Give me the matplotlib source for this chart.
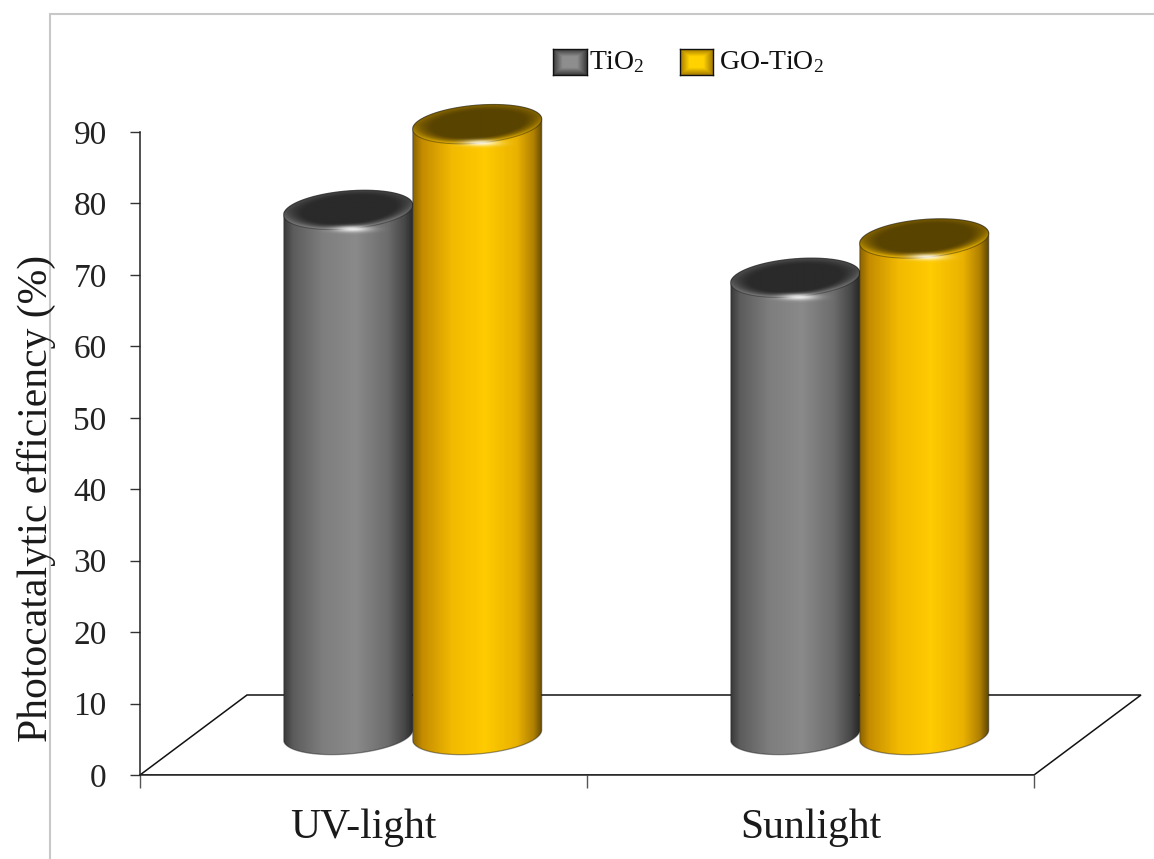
"""Photocatalytic efficiency of TiO2 and GO-TiO2 under UV light and sunlight.

Pseudo-3D cylinder bar chart drawn with plain matplotlib patches and clipped
gradient images.
"""

import matplotlib

matplotlib.use("Agg")
import matplotlib.pyplot as plt  # noqa: E402
import numpy as np  # noqa: E402
from matplotlib.colors import LinearSegmentedColormap, to_rgb  # noqa: E402
from matplotlib.patches import Polygon, Rectangle  # noqa: E402

plt.rcParams["font.family"] = ["Liberation Serif", "DejaVu Serif"]
plt.rcParams["mathtext.fontset"] = "custom"
plt.rcParams["mathtext.rm"] = "Liberation Serif"
plt.rcParams["mathtext.it"] = "Liberation Serif:italic"

categories = ["UV-light", "Sunlight"]
series_names = [r"TiO$_{\mathrm{2}}$", r"GO-TiO$_{\mathrm{2}}$"]
tio2 = [73.5, 64.0]
go_tio2 = [85.5, 69.5]
y_ticks = [0, 10, 20, 30, 40, 50, 60, 70, 80, 90]

W, H, DPI = 1154, 859, 100
PX_X = 447.0   # pixels per category unit
PX_Y = 7.144   # pixels per percent

# floor depth offset (px -> data units)
DDX = 107 / PX_X
DDY = 80 / PX_Y
# cylinder geometry
CW = 129 / PX_X
CA = CW / 2
CB = 19 / PX_Y
SHEAR = (10 / PX_Y) / CW
BASE = DDY / 2

BODY_STOPS = {
    "gray": [(0.0, "#3a3a3a"), (0.07, "#5c5c5c"), (0.3, "#7e7e7e"), (0.55, "#8a8a8a"),
             (0.8, "#6c6c6c"), (0.93, "#474747"), (1.0, "#262626")],
    "gold": [(0.0, "#8c6400"), (0.07, "#c48c00"), (0.3, "#f2ba00"), (0.55, "#ffcb00"),
             (0.8, "#eab200"), (0.93, "#b08000"), (1.0, "#5e4600")],
}
TOP_COLORS = {"gray": ("#2a2a2a", "#8a8a8a"), "gold": ("#594300", "#e6b000")}


def ellipse_pts(xc, yc, t0, t1, n=80):
    t = np.linspace(t0, t1, n)
    x = xc + CA * np.cos(t)
    y = yc + CB * np.sin(t) + SHEAR * (x - xc)
    return np.column_stack([x, y])


def draw_cylinder(ax, xc, value, style, z):
    yb = BASE
    yt = BASE + value
    x0, x1 = xc - CA, xc + CA
    lo = yb - CB - SHEAR * CA
    hi = yt + CB + SHEAR * CA

    # body: lower half of base ellipse, then upper half of top ellipse
    body = np.vstack([ellipse_pts(xc, yb, np.pi, 2 * np.pi), ellipse_pts(xc, yt, 0, np.pi)])
    clip = Polygon(body, closed=True, facecolor="none", edgecolor="none", zorder=z)
    ax.add_patch(clip)
    cmap = LinearSegmentedColormap.from_list(style, BODY_STOPS[style])
    row = cmap(np.linspace(0, 1, 256))[None, :, :]
    im = ax.imshow(row, extent=[x0, x1, lo, hi], aspect="auto", interpolation="bilinear",
                   origin="lower", zorder=z)
    im.set_clip_path(clip)
    ax.add_patch(Polygon(body, closed=True, facecolor="none", edgecolor="#1a1a1a",
                         lw=0.9, alpha=0.45, zorder=z + 0.1))

    # top face with a bevelled rim
    top = ellipse_pts(xc, yt, 0, 2 * np.pi, 160)
    tclip = Polygon(top, closed=True, facecolor="none", edgecolor="none", zorder=z + 0.2)
    ax.add_patch(tclip)
    ny, nx = 120, 160
    ty0, ty1 = yt - CB - SHEAR * CA, yt + CB + SHEAR * CA
    gx, gy = np.meshgrid(np.linspace(x0, x1, nx), np.linspace(ty0, ty1, ny))
    u = (gx - xc) / CA
    v = (gy - yt - SHEAR * (gx - xc)) / CB
    r = np.sqrt(u ** 2 + v ** 2)
    f = np.clip((r - 0.7) / 0.3, 0, 1) ** 1.5 * (0.35 + 0.65 * np.clip(-v + 0.2, 0, 1))
    c_in, c_rim = np.array(to_rgb(TOP_COLORS[style][0])), np.array(to_rgb(TOP_COLORS[style][1]))
    img = c_in * (1 - f[..., None]) + c_rim * f[..., None]
    tim = ax.imshow(img, extent=[x0, x1, ty0, ty1], aspect="auto", origin="lower",
                    interpolation="bilinear", zorder=z + 0.2)
    tim.set_clip_path(tclip)
    ax.add_patch(Polygon(top, closed=True, facecolor="none", edgecolor="#111111",
                         lw=0.8, alpha=0.4, zorder=z + 0.3))

    # specular spot just below the front rim
    hx, hy = np.meshgrid(np.linspace(x0, x1, 120), np.linspace(yt - 2 * CB, yt, 60))
    hxc, hyc = xc + 0.05 * CA, yt - 1.0 * CB
    a = 0.85 * np.exp(-(((hx - hxc) / (0.28 * CA)) ** 2) - (((hy - hyc) / (0.16 * CB)) ** 2))
    spot = np.ones((60, 120, 4))
    spot[..., 3] = a
    ax.imshow(spot, extent=[x0, x1, yt - 2 * CB, yt], aspect="auto", origin="lower",
              interpolation="bilinear", zorder=z + 0.4)


def legend_icon(fig, left_px, top_px, w_px, h_px, edge, inner):
    iax = fig.add_axes([left_px / W, 1 - (top_px + h_px) / H, w_px / W, h_px / H])
    ny, nx = 40, 50
    gx, gy = np.meshgrid(np.linspace(0, 1, nx), np.linspace(0, 1, ny))
    d = np.minimum(np.minimum(gx, 1 - gx), np.minimum(gy, 1 - gy))
    t = np.clip(d / 0.28, 0, 1)
    e, c = np.array(to_rgb(edge)), np.array(to_rgb(inner))
    img = e * (1 - t[..., None]) + c * t[..., None]
    iax.imshow(img, aspect="auto", interpolation="bilinear")
    iax.set_xticks([])
    iax.set_yticks([])
    for s in iax.spines.values():
        s.set_color("#111111")
        s.set_linewidth(1.0)


fig = plt.figure(figsize=(W / DPI, H / DPI), dpi=DPI)
fig.patch.set_facecolor("white")

# chart area frame
fig.add_artist(Rectangle((50 / W, -0.01), 1.0, 1 - 14 / H + 0.01, transform=fig.transFigure,
                         facecolor="none", edgecolor="#c8c8c8", lw=1.5))

ax_l, ax_r, ax_b, ax_t = 140, 1150, 775, 80
ax = fig.add_axes([ax_l / W, (H - ax_b) / H, (ax_r - ax_l) / W, (ax_b - ax_t) / H])
ax.set_facecolor("none")

# floor
floor = [(0, 0), (2, 0), (2 + DDX, DDY), (DDX, DDY)]
ax.add_patch(Polygon(floor, closed=True, facecolor="white", edgecolor="#111111",
                     lw=1.1, zorder=1))

for i in range(len(categories)):
    gc = i + 0.5 + 0.11
    draw_cylinder(ax, gc - CA, tio2[i], "gray", 3 + i * 2)
    draw_cylinder(ax, gc + CA, go_tio2[i], "gold", 4 + i * 2)

ax.set_xlim(0, (ax_r - ax_l) / PX_X)
ax.set_ylim(0, (ax_b - ax_t) / PX_Y)

for side in ("top", "right"):
    ax.spines[side].set_visible(False)
ax.spines["left"].set_bounds(0, 90)
ax.spines["bottom"].set_bounds(0, 2)
for side in ("left", "bottom"):
    ax.spines[side].set_color("#222222")
    ax.spines[side].set_linewidth(1.1)

ax.set_yticks(y_ticks)
ax.set_yticklabels([str(t) for t in y_ticks])
ax.tick_params(axis="y", length=7, width=1.0, color="#333333", labelsize=24, pad=17,
               labelcolor="#222222")
ax.set_xticks([0, 1, 2])
ax.set_xticklabels([])
ax.tick_params(axis="x", length=9, width=1.0, color="#555555")

for i, name in enumerate(categories):
    ax.text(i + 0.5, -53 / PX_Y, name, ha="center", va="center", fontsize=30,
            color="#1a1a1a", clip_on=False)

fig.text(36 / W, 1 - 498 / H, "Photocatalytic efficiency (%)", rotation=90,
         ha="center", va="center", fontsize=30, color="#1a1a1a")

# legend
legend_icon(fig, 553, 49, 34, 26, "#3c3c3c", "#8e8e8e")
legend_icon(fig, 680, 49, 33, 26, "#a67c00", "#ffd200")
fig.text(589 / W, 1 - 62 / H, series_names[0], ha="left", va="center", fontsize=20,
         color="#111111")
fig.text(719 / W, 1 - 62 / H, series_names[1], ha="left", va="center", fontsize=20,
         color="#111111")

fig.savefig("out.png", dpi=DPI)
plt.close(fig)
